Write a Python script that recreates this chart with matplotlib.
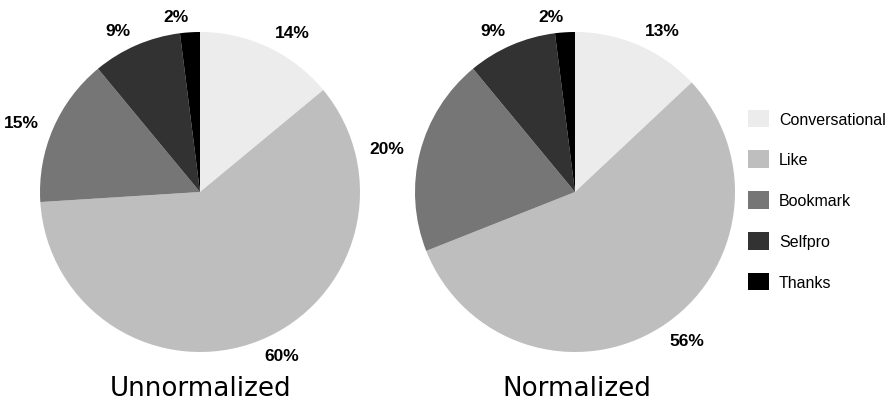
import matplotlib.pyplot as plt

W, H = 888, 406
R = 160  # pie radius in pixels

categories = ["Conversational", "Like", "Bookmark", "Selfpro", "Thanks"]
colors = ["#ececec", "#bebebe", "#767676", "#323232", "#000000"]
unnormalized = [14, 60, 15, 9, 2]
normalized = [13, 56, 20, 9, 2]


def pie_axes(fig, cx, cy):
    # axes box of 2R x 2R pixels centred on (cx, cy), y measured from the top
    return fig.add_axes([(cx - R) / W, (H - cy - R) / H, 2 * R / W, 2 * R / H])


def draw_pie(ax, values, title, tx):
    wedges, texts = ax.pie(
        values,
        labels=[f"{v}%" for v in values],
        colors=colors,
        startangle=90,
        counterclock=False,
        labeldistance=1.1,
        textprops=dict(fontsize=12.5, fontweight="bold",
                       family="Liberation Sans"),
    )
    ax.set_xlim(-1, 1)
    ax.set_ylim(-1, 1)
    ax.set_aspect("equal")
    ax.set_axis_off()
    ax.figure.text(tx / W, 1 - 389 / H, title, ha="center", va="center",
                   fontsize=18.8, family="DejaVu Sans")
    return wedges


def main():
    fig = plt.figure(figsize=(W / 100, H / 100), dpi=100)

    ax1 = pie_axes(fig, 200, 193)
    wedges = draw_pie(ax1, unnormalized, "Unnormalized", 201)

    ax2 = pie_axes(fig, 575, 193)
    draw_pie(ax2, normalized, "Normalized", 577)

    fig.legend(
        wedges, categories,
        loc="center left",
        bbox_to_anchor=(748 / W, 1 - 201 / H),
        frameon=False,
        borderaxespad=0,
        borderpad=0,
        handlelength=1.3,
        handleheight=1.3,
        handletextpad=0.63,
        labelspacing=1.47,
        prop=dict(family="Liberation Sans", size=11.5),
    )

    fig.savefig("out.png", dpi=100)


if __name__ == "__main__":
    main()
